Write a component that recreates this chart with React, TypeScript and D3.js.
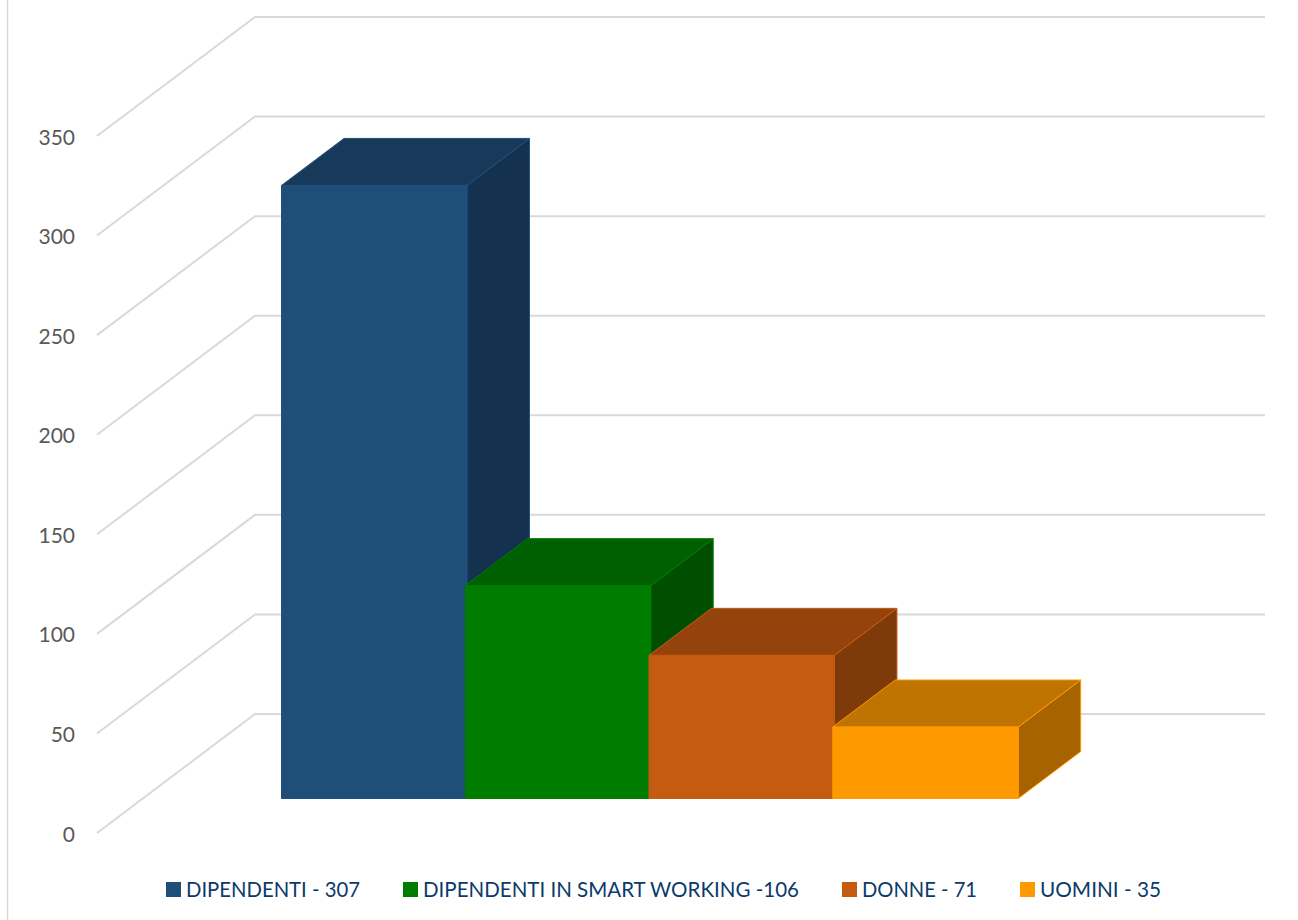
import React from "react";
import * as d3 from "d3";

const WIDTH = 1298;
const HEIGHT = 920;

const categories = ["DIPENDENTI", "DIPENDENTI IN SMART WORKING", "DONNE", "UOMINI"];
const legendLabels = ["DIPENDENTI - 307", "DIPENDENTI IN SMART WORKING -106", "DONNE - 71", "UOMINI - 35"];
const values = [307, 106, 71, 35];
const tickValues = [0, 50, 100, 150, 200, 250, 300, 350];

const frontColors = ["#1F4E79", "#007D00", "#C55A11", "#FF9900"];
const topColors = ["#173A5B", "#005F00", "#94430C", "#BF7300"];
const sideColors = ["#14324F", "#004F00", "#7F3A0A", "#A66300"];
const edgeColors = ["#234F7C", "#007D00", "#C55A11", "#FF9900"];
const legendSwatchX = [166, 403, 842, 1020];
const legendTextX = [186, 423, 862, 1040];
const legendTextWidth = [174, 376, 115, 121];

// Wall floor lines at the front edge and the back edge of the 3D plot.
const yFront = d3.scaleLinear().domain([0, 350]).range([833, 136]);
const yBack = d3.scaleLinear().domain([0, 350]).range([714, 17]);
const yBar = d3.scaleLinear().domain([0, 350]).range([796.7, 99.8]);
const xBand = d3.scaleBand<string>().domain(categories).range([281.5, 1016.5]);

const BAR_OVERLAP = 1.7;
const DEPTH_X = 62.5;
const DEPTH_Y = 47;
const BAR_FLOOR = 798.5;
const GRID_LEFT = 97;
const GRID_BACK = 255;
const GRID_RIGHT = 1265;

const poly = d3.line<[number, number]>().curve(d3.curveLinearClosed);
const open = d3.line<[number, number]>();

export default function App() {
  return (
    <svg
      width={WIDTH}
      height={HEIGHT}
      viewBox={`0 0 ${WIDTH} ${HEIGHT}`}
      style={{ position: "absolute", left: 0, top: 0, background: "#fff" }}
    >
      <line x1={7.5} x2={7.5} y1={0} y2={HEIGHT} stroke="#D9D9D9" strokeWidth={1.5} />

      {tickValues.map((t) => (
        <g key={t}>
          <path
            d={open([
              [GRID_LEFT, yFront(t)],
              [GRID_BACK, yBack(t)],
              [GRID_RIGHT, yBack(t)],
            ]) as string}
            fill="none"
            stroke="#D9D9D9"
            strokeWidth={2}
          />
          <text
            x={75}
            y={yFront(t) + 8.5}
            textAnchor="end"
            fontFamily="Lato, 'Open Sans', sans-serif"
            fontSize={21}
            fill="#595959"
          >
            {t}
          </text>
        </g>
      ))}

      {categories.map((c, i) => {
        const x0 = xBand(c) as number;
        const x1 = x0 + xBand.bandwidth() + BAR_OVERLAP;
        const top = yBar(values[i]);
        const face = (pts: [number, number][], fill: string) => (
          <path d={poly(pts) as string} fill={fill} stroke={edgeColors[i]} strokeWidth={1} strokeLinejoin="round" />
        );
        return (
          <g key={c}>
            {face(
              [
                [x1, top],
                [x1 + DEPTH_X, top - DEPTH_Y],
                [x1 + DEPTH_X, BAR_FLOOR - DEPTH_Y],
                [x1, BAR_FLOOR],
              ],
              sideColors[i],
            )}
            {face(
              [
                [x0, top],
                [x0 + DEPTH_X, top - DEPTH_Y],
                [x1 + DEPTH_X, top - DEPTH_Y],
                [x1, top],
              ],
              topColors[i],
            )}
            {face(
              [
                [x0, top],
                [x1, top],
                [x1, BAR_FLOOR],
                [x0, BAR_FLOOR],
              ],
              frontColors[i],
            )}
          </g>
        );
      })}

      {legendLabels.map((label, i) => (
        <g key={label}>
          <rect x={legendSwatchX[i]} y={882} width={15} height={15} fill={frontColors[i]} />
          <text
            x={legendTextX[i]}
            y={897}
            fontFamily="Lato, 'Open Sans', sans-serif"
            fontSize={21}
            fill="#0B3A6B"
            textLength={legendTextWidth[i]}
            lengthAdjust="spacingAndGlyphs"
          >
            {label}
          </text>
        </g>
      ))}
    </svg>
  );
}
